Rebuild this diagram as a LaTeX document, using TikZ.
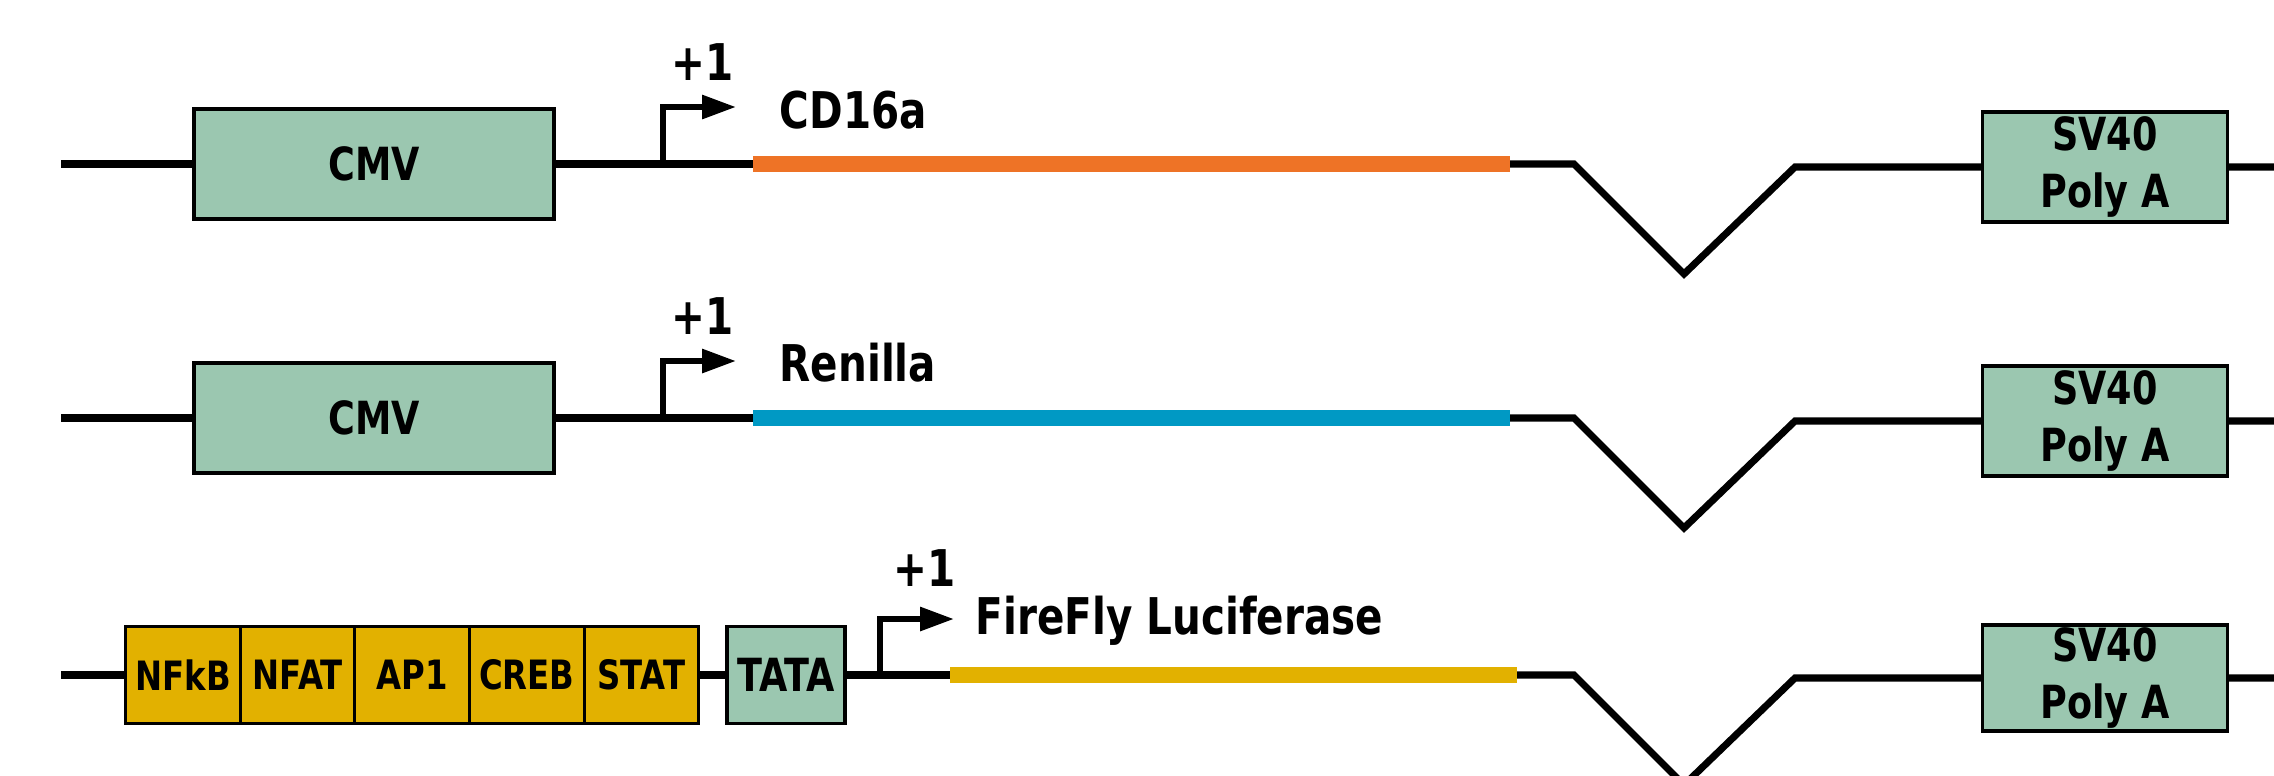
\documentclass[tikz,border=0pt]{standalone}
\usepackage{fontspec}
\setmainfont{DejaVu Sans}[FakeStretch=0.8]
\usetikzlibrary{arrows.meta,positioning}

\definecolor{elemgreen}{HTML}{9BC7B0}
\definecolor{cdorange}{HTML}{EE7326}
\definecolor{renblue}{HTML}{0099C4}
\definecolor{flyyellow}{HTML}{E2B100}

\tikzset{
  dna/.style={line width=2pt},
  tss/.style={line width=1.7pt, -{Triangle[length=3.4mm, width=2.3mm]}},
  genebar/.style={line width=4.7pt},
  element/.style={draw, line width=0.9pt, fill=elemgreen, inner sep=0pt,
    minimum height=11mm, align=center,
    font=\bfseries\fontsize{13}{16.4}\selectfont},
  tfbox/.style={draw, line width=0.9pt, fill=flyyellow, inner sep=0pt, outer sep=0pt,
    minimum width=11.46mm, minimum height=9.7mm,
    font=\bfseries\fontsize{11.5}{14}\selectfont},
  lbl/.style={inner sep=0pt, font=\bfseries\fontsize{14.4}{17}\selectfont},
}

\begin{document}
\begin{tikzpicture}[x=0.1mm, y=-0.1mm]
    % --- 定义参数 ---
    \def\rowA{164}    % CD16a 行
    \def\rowB{418}    % Renilla 行
    \def\rowC{675}    % FireFly 行
    \def\dy{3}        % 右侧 (SV40) 线段略低

    \useasboundingbox (0,0) rectangle (2274,775);
    \clip (0,0) rectangle (2274,775);

    % --- 第一行: CMV -> CD16a ---
    \coordinate (s1) at (61,\rowA);
    \node[element, minimum width=36mm] (cmv1) at (374,\rowA) {CMV};
    \coordinate (tss1) at (663,\rowA);
    \coordinate (tip1) at (736,107);
    \coordinate (b1a) at (753,\rowA);
    \coordinate (b1b) at (1510,\rowA);
    \coordinate (v1a) at (1574,\rowA);
    \coordinate (v1b) at (1684,274);
    \coordinate (v1c) at (1795,\rowA+\dy);
    \node[element, minimum width=24.5mm] (sv1) at (2105,\rowA+\dy) {SV40\\Poly A};
    \coordinate (e1) at (2274,\rowA+\dy);

    \draw[dna] (s1) -- (cmv1) -- (b1a);
    \draw[dna] (b1b) -- (v1a) -- (v1b) -- (v1c) -- (sv1) -- (e1);
    \draw[genebar, cdorange] (b1a) -- (b1b);
    \draw[tss] (tss1) |- (tip1);
    \node[lbl] (plus1) at (703,62) {+1};
    \node[lbl, anchor=west] (cd16a) at (779,110) {CD16a};

    % --- 第二行: CMV -> Renilla ---
    \coordinate (s2) at (61,\rowB);
    \node[element, minimum width=36mm] (cmv2) at (374,\rowB) {CMV};
    \coordinate (tss2) at (663,\rowB);
    \coordinate (tip2) at (736,361);
    \coordinate (b2a) at (753,\rowB);
    \coordinate (b2b) at (1510,\rowB);
    \coordinate (v2a) at (1574,\rowB);
    \coordinate (v2b) at (1684,528);
    \coordinate (v2c) at (1795,\rowB+\dy);
    \node[element, minimum width=24.5mm] (sv2) at (2105,\rowB+\dy) {SV40\\Poly A};
    \coordinate (e2) at (2274,\rowB+\dy);

    \draw[dna] (s2) -- (cmv2) -- (b2a);
    \draw[dna] (b2b) -- (v2a) -- (v2b) -- (v2c) -- (sv2) -- (e2);
    \draw[genebar, renblue] (b2a) -- (b2b);
    \draw[tss] (tss2) |- (tip2);
    \node[lbl] (plus2) at (703,316) {+1};
    \node[lbl, anchor=west] (renilla) at (779,363) {Renilla};

    % --- 第三行: 反应元件 + TATA -> FireFly ---
    \coordinate (s3) at (61,\rowC);
    \node[tfbox] (nfkb) at (183,\rowC) {NFkB};
    \node[tfbox, right=0pt of nfkb] (nfat) {NFAT};
    \node[tfbox, right=0pt of nfat] (ap1) {AP1};
    \node[tfbox, right=0pt of ap1] (creb) {CREB};
    \node[tfbox, right=0pt of creb] (stat) {STAT};
    \node[element, minimum width=11.8mm, minimum height=9.7mm] (tata) at (786,\rowC) {TATA};
    \coordinate (tss3) at (880,\rowC);
    \coordinate (tip3) at (954,619);
    \coordinate (b3a) at (950,\rowC);
    \coordinate (b3b) at (1517,\rowC);
    \coordinate (v3a) at (1574,\rowC);
    \coordinate (v3b) at (1684,785);
    \coordinate (v3c) at (1795,\rowC+\dy);
    \node[element, minimum width=24.5mm, minimum height=10.6mm] (sv3) at (2105,\rowC+\dy) {SV40\\Poly A};
    \coordinate (e3) at (2274,\rowC+\dy);

    \draw[dna] (s3) -- (nfkb);
    \draw[dna] (stat) -- (tata) -- (b3a);
    \draw[dna] (b3b) -- (v3a) -- (v3b) -- (v3c) -- (sv3) -- (e3);
    \draw[genebar, flyyellow] (b3a) -- (b3b);
    \draw[tss] (tss3) |- (tip3);
    \node[lbl] (plus3) at (925,568) {+1};
    \node[lbl, anchor=west] (firefly) at (975,621) {FireFly Luciferase};

\end{tikzpicture}
\end{document}
